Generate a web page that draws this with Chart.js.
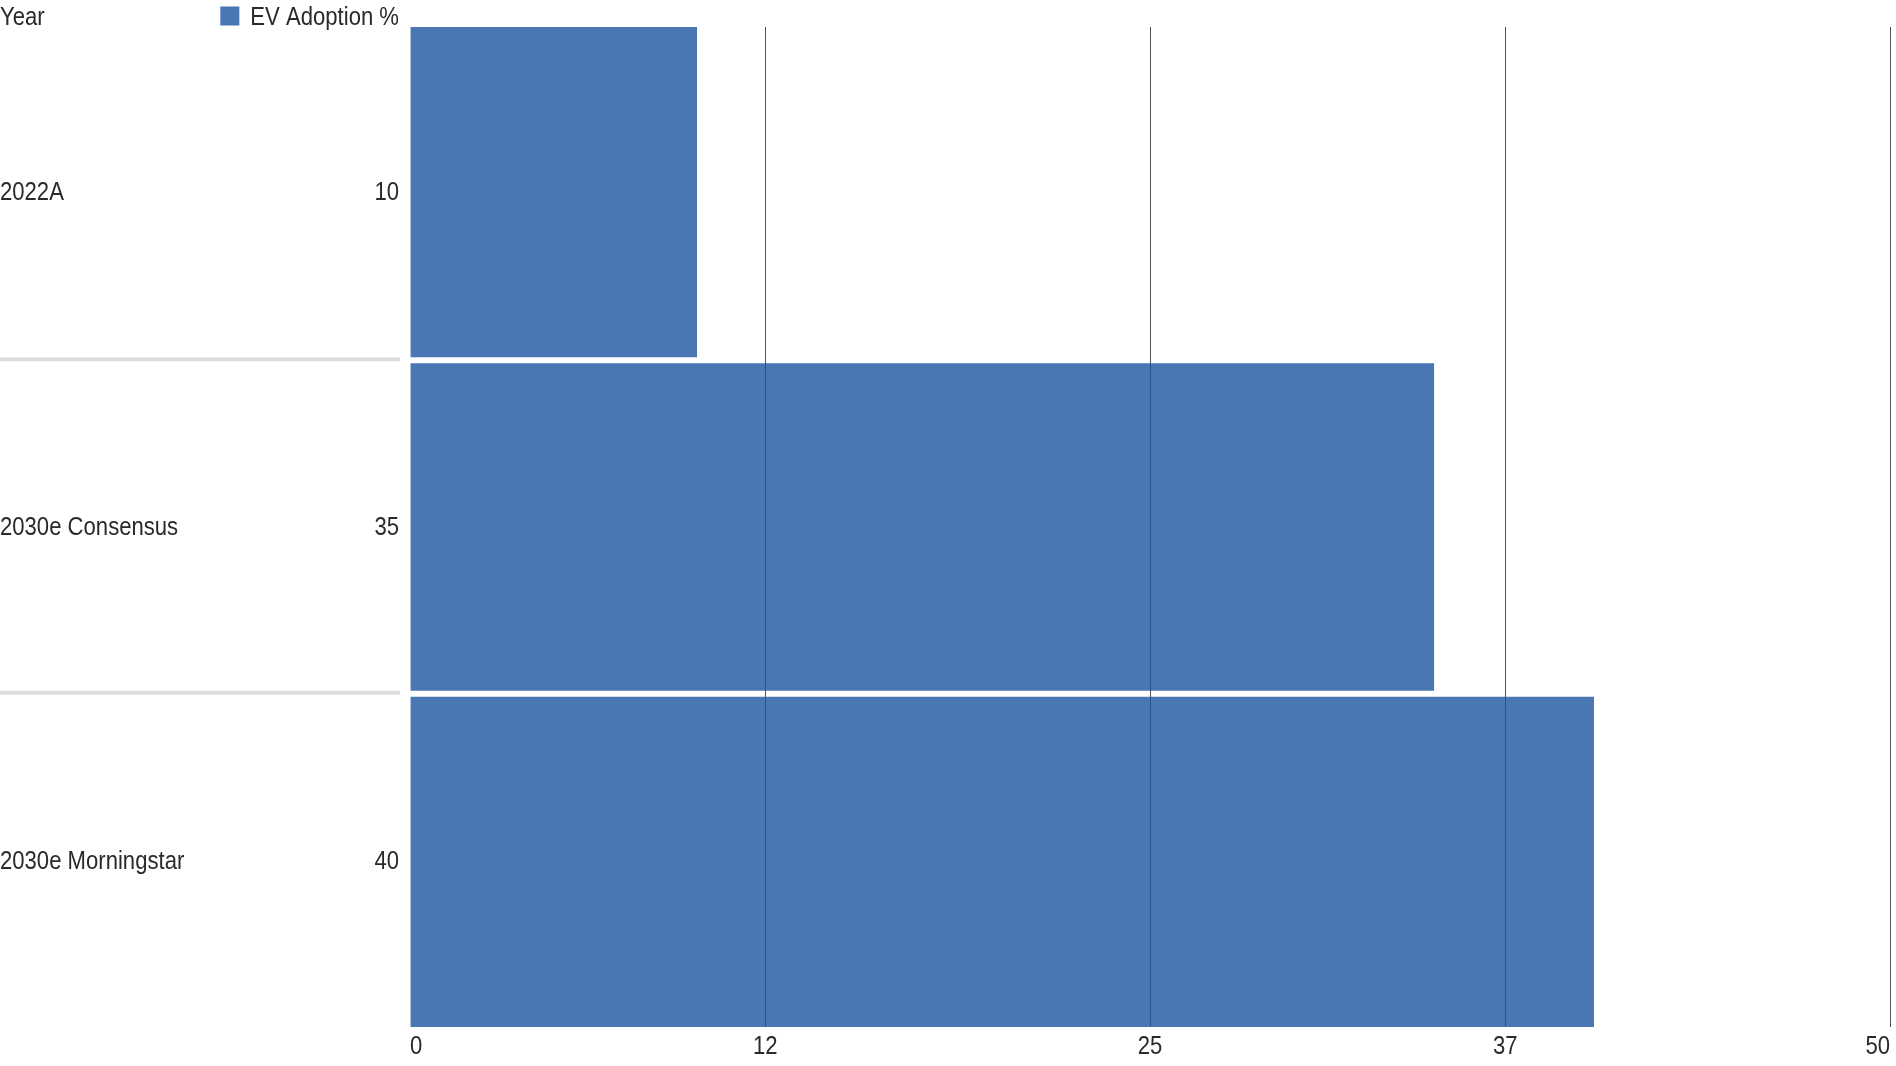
<!DOCTYPE html>
<html><head><meta charset="utf-8">
<script src="https://cdn.jsdelivr.net/npm/chart.js@4.4.1/dist/chart.umd.min.js"></script>
<style>html,body{margin:0;padding:0;background:#fff;overflow:hidden}#wrap{width:1896px;height:1066px;position:relative}</style>
</head><body><div id="wrap"><canvas id="c"></canvas></div>
<script>
const categories = ['2022A', '2030e Consensus', '2030e Morningstar'];
const evAdoption = [9.7, 34.6, 40];
const valueLabels = ['10', '35', '40'];
const xTicks = [0, 12, 25, 37, 50];
const xTickLabels = ['0', '12', '25', '37', '50'];
const seriesName = 'EV Adoption %';
const headerLabel = 'Year';

const FONT = "'Liberation Sans Narrow', 'Liberation Sans', Arial, sans-serif";
const TEXT = '#2a2a2a';
const BAR = '#4a77b4';
const BAR_FILL = 'rgba(29,85,161,0.8)';
const NARROW = 0.85;
const GAP = 3.3;

function narrowText(ctx, text, x, y, align) {
  ctx.save();
  ctx.translate(x, y);
  ctx.scale(NARROW, 1);
  ctx.textAlign = align;
  ctx.fillText(text, 0, 0);
  ctx.restore();
}

const sidePlugin = {
  id: 'sideLabels',
  afterDraw(chart) {
    const ctx = chart.ctx, y = chart.scales.y, x = chart.scales.x, area = chart.chartArea;
    const xr = area.left - 11;
    ctx.save();
    ctx.font = '26px ' + FONT;
    ctx.fillStyle = TEXT;
    ctx.textBaseline = 'middle';
    categories.forEach((c, i) => {
      const py = y.getPixelForTick(i) + (i === 0 ? -1 : 1);
      narrowText(ctx, c, 0, py, 'left');
      narrowText(ctx, valueLabels[i], xr, py, 'right');
    });
    ctx.strokeStyle = '#dcdcdc';
    ctx.lineWidth = 4;
    for (let i = 1; i < categories.length; i++) {
      const yy = (y.getPixelForTick(i - 1) + y.getPixelForTick(i)) / 2 - 1;
      ctx.beginPath(); ctx.moveTo(0, yy); ctx.lineTo(xr + 1, yy); ctx.stroke();
    }
    const ty = area.bottom + 20;
    xTicks.forEach((v, i) => {
      const px = x.getPixelForValue(v);
      const align = i === 0 ? 'left' : (i === xTicks.length - 1 ? 'right' : 'center');
      narrowText(ctx, xTickLabels[i], px, ty, align);
    });
    const hy = 18;
    narrowText(ctx, headerLabel, 0, hy, 'left');
    narrowText(ctx, seriesName, xr, hy, 'right');
    const tw = ctx.measureText(seriesName).width * NARROW;
    const box = 19;
    ctx.fillStyle = BAR;
    ctx.fillRect(xr - tw - 11 - box, hy - box / 2 - 2, box, box);
    ctx.restore();
  }
};

const n = categories.length;
new Chart(document.getElementById('c'), {
  type: 'bar',
  data: {
    labels: categories,
    datasets: [{
      label: seriesName,
      data: evAdoption,
      backgroundColor: BAR_FILL,
      borderColor: 'rgba(255,255,255,0)',
      borderSkipped: false,
      borderWidth: (c) => ({ top: c.dataIndex > 0 ? GAP : 0, bottom: c.dataIndex < n - 1 ? GAP : 0, left: 0, right: 0 }),
      categoryPercentage: 1,
      barPercentage: 1
    }]
  },
  options: {
    indexAxis: 'y',
    responsive: true,
    maintainAspectRatio: false,
    animation: false,
    layout: { padding: { top: 27, right: 6, left: 0, bottom: 0 } },
    plugins: { legend: { display: false }, tooltip: { enabled: false } },
    scales: {
      x: {
        type: 'linear',
        min: 0, max: 50,
        afterBuildTicks(scale) { scale.ticks = xTicks.map(v => ({ value: v })); },
        afterFit(scale) { scale.height = 39; },
        ticks: { display: false },
        grid: {
          drawTicks: false,
          lineWidth: 1,
          color: (c) => (c.tick && c.tick.value === 0) ? 'rgba(0,0,0,0)' : '#505050'
        },
        border: { display: false }
      },
      y: {
        afterFit(scale) { scale.width = 410; },
        ticks: { display: false },
        grid: { display: false },
        border: { display: false }
      }
    }
  },
  plugins: [sidePlugin]
});
</script>
</body></html>
